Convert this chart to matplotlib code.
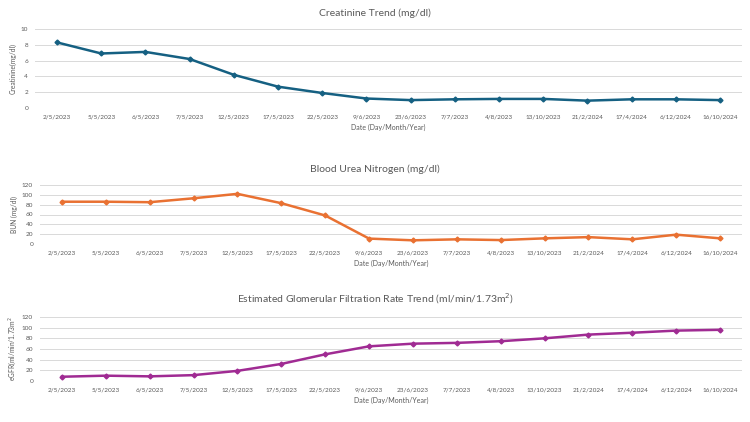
import matplotlib
matplotlib.use("Agg")
import matplotlib.pyplot as plt

plt.rcParams['font.family'] = ['Lato', 'DejaVu Sans']

dates = ["2/5/2023", "5/5/2023", "6/5/2023", "7/5/2023", "12/5/2023", "17/5/2023",
         "22/5/2023", "9/6/2023", "23/6/2023", "7/7/2023", "4/8/2023", "13/10/2023",
         "21/2/2024", "17/4/2024", "6/12/2024", "16/10/2024"]

creatinine = [8.3, 6.9, 7.1, 6.2, 4.2, 2.7, 1.9, 1.2, 1.0, 1.1, 1.15, 1.15, 0.93, 1.1, 1.1, 1.0]
bun = [86, 86, 85, 93, 102, 83, 58, 11, 7.5, 9.5, 8, 11.5, 14, 9.5, 19, 11.5]
egfr = [8, 10, 8.7, 11, 19, 32, 50, 65, 70, 71.5, 74.6, 80, 87, 90.5, 94.5, 96]

grey = "#595959"
W, H = 750, 422

panels = [
    # data, color, title, ylabel, yticks, (left, top, right, bottom) px, title y px
    (creatinine, "#156082", "Creatinine Trend (mg/dl)", "Creatinine(mg/dl)",
     [0, 2, 4, 6, 8, 10], (35, 29, 742, 108), 13),
    (bun, "#E97132", "Blood Urea Nitrogen (mg/dl)", "BUN (mg/dl)",
     [0, 20, 40, 60, 80, 100, 120], (40, 185, 742, 244), 169),
    (egfr, "#A02B93", "Estimated Glomerular Filtration Rate Trend (ml/min/1.73m$^2$)",
     "eGFR(ml/min/1.73m$^2$",
     [0, 20, 40, 60, 80, 100, 120], (40, 317, 742, 381), 299),
]

fig = plt.figure(figsize=(W / 100, H / 100), dpi=100)

for data, color, title, ylabel, yticks, box, ty in panels:
    l, t, r, b = box
    ax = fig.add_axes([l / W, 1 - b / H, (r - l) / W, (b - t) / H])
    x = list(range(len(dates)))
    ax.plot(x, data, color=color, lw=1.8, marker="D", ms=2.5, zorder=3)
    ax.set_xlim(-0.5, len(dates) - 0.5)
    ax.set_ylim(yticks[0], yticks[-1])
    ax.set_yticks(yticks)
    ax.set_xticks(x)
    ax.set_xticklabels(dates)
    ax.tick_params(length=0, labelsize=4.6, colors=grey, pad=5)
    ax.grid(axis="y", color="#d9d9d9", lw=0.7)
    ax.set_axisbelow(True)
    for s in ax.spines.values():
        s.set_visible(False)
    ax.set_xlabel("Date (Day/Month/Year)", fontsize=5, color=grey, labelpad=3)
    ax.set_ylabel(ylabel, fontsize=4.8, color=grey, labelpad=3)
    fig.text(0.5, 1 - ty / H, title, ha="center", va="center", fontsize=7.5, color=grey)

fig.savefig("out.png", dpi=100)
